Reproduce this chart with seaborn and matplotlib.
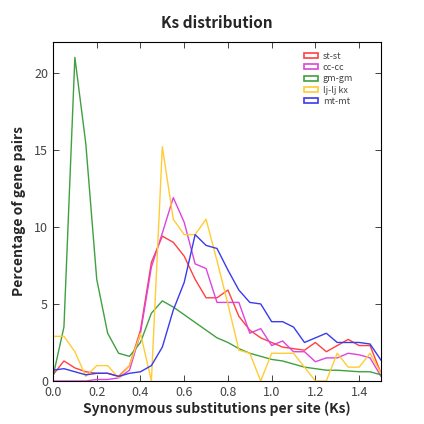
import numpy as np
import pandas as pd
import seaborn as sns
import matplotlib.pyplot as plt
from matplotlib.patches import Patch

# Ks bins (0.05 steps) and percentage of gene pairs for each species pair
ks = [round(i * 0.05, 2) for i in range(31)]
st_st = [0.4, 1.3, 0.85, 0.6, 0.5, 0.5, 0.3, 1.0, 3.3, 7.7, 9.4, 9.0, 8.1, 6.6, 5.4, 5.4,
         5.9, 4.2, 3.3, 2.8, 2.5, 2.2, 2.1, 2.0, 2.5, 1.9, 2.3, 2.7, 2.3, 2.3, 0.5]
cc_cc = [0.0, 0.0, 0.0, 0.0, 0.1, 0.1, 0.2, 0.7, 3.1, 7.4, 9.6, 11.9, 10.3, 7.6, 7.3, 5.1,
         5.1, 5.1, 3.1, 3.4, 2.3, 2.6, 1.9, 1.9, 1.25, 1.5, 1.5, 1.8, 1.7, 1.5, 0.3]
gm_gm = [0.3, 3.5, 21.0, 15.4, 6.6, 3.1, 1.8, 1.6, 2.5, 4.4, 5.2, 4.8, 4.3, 3.8, 3.3, 2.8,
         2.5, 2.1, 1.8, 1.6, 1.4, 1.3, 1.1, 0.9, 0.8, 0.7, 0.7, 0.65, 0.6, 0.6, 0.4]
lj_lj = [2.9, 2.9, 1.9, 0.3, 1.0, 1.0, 0.2, 1.0, 3.1, 0.0, 15.2, 10.5, 9.5, 9.5, 10.5, 7.8,
         5.0, 2.0, 1.8, 0.0, 1.8, 1.8, 1.8, 0.9, 0.0, 0.0, 1.8, 0.9, 0.9, 1.8, 0.5]
mt_mt = [0.7, 0.8, 0.6, 0.4, 0.5, 0.5, 0.3, 0.5, 0.6, 1.0, 2.2, 4.6, 6.4, 9.5, 8.8, 8.6,
         7.2, 5.9, 5.1, 5.0, 3.85, 3.85, 3.5, 2.5, 2.8, 3.1, 2.5, 2.5, 2.5, 2.4, 1.35]

labels = ['st-st', 'cc-cc', 'gm-gm', 'lj-lj kx', 'mt-mt']
colors = ['#ff4040', '#dd44dd', '#40a040', '#ffcc33', '#3a3aee']

df = pd.DataFrame({'Ks': ks * 5,
                   'pct': st_st + cc_cc + gm_gm + lj_lj + mt_mt,
                   'pair': [l for l in labels for _ in ks]})

sns.set_style('ticks')
plt.rcParams['font.family'] = ['Noto Sans CJK KR', 'DejaVu Sans']

fig = plt.figure(figsize=(4.24, 4.24), dpi=100)
ax = fig.add_axes([53 / 424, 43 / 424, 328 / 424, 339 / 424])
sns.lineplot(data=df, x='Ks', y='pct', hue='pair', hue_order=labels,
             palette=colors, linewidth=1, ax=ax, legend=False)

ax.set_xlim(0, 1.5)
ax.set_ylim(0, 22)
ax.set_xticks([0.0, 0.2, 0.4, 0.6, 0.8, 1.0, 1.2, 1.4])
ax.set_yticks([0, 5, 10, 15, 20])
ax.tick_params(direction='in', top=True, right=True, labelsize=9,
               labelcolor='#444444', length=4, width=0.6)
for s in ax.spines.values():
    s.set_linewidth(0.8)
    s.set_color('black')

ax.set_xlabel('Synonymous substitutions per site (Ks)', fontsize=10, fontweight='bold', labelpad=2)
ax.set_ylabel('Percentage of gene pairs', fontsize=10, fontweight='bold', labelpad=6)
ax.set_title('Ks distribution', fontsize=11, fontweight='bold', pad=10)

handles = [Patch(facecolor='white', edgecolor=c, linewidth=1.2, label=l) for l, c in zip(labels, colors)]
ax.legend(handles=handles, loc='upper right', bbox_to_anchor=(0.94, 0.995), frameon=False,
          fontsize=6.5, handlelength=1.6, handleheight=0.5, labelspacing=0.25,
          handletextpad=0.5, labelcolor='#444444')

fig.savefig('out.png', dpi=100)
